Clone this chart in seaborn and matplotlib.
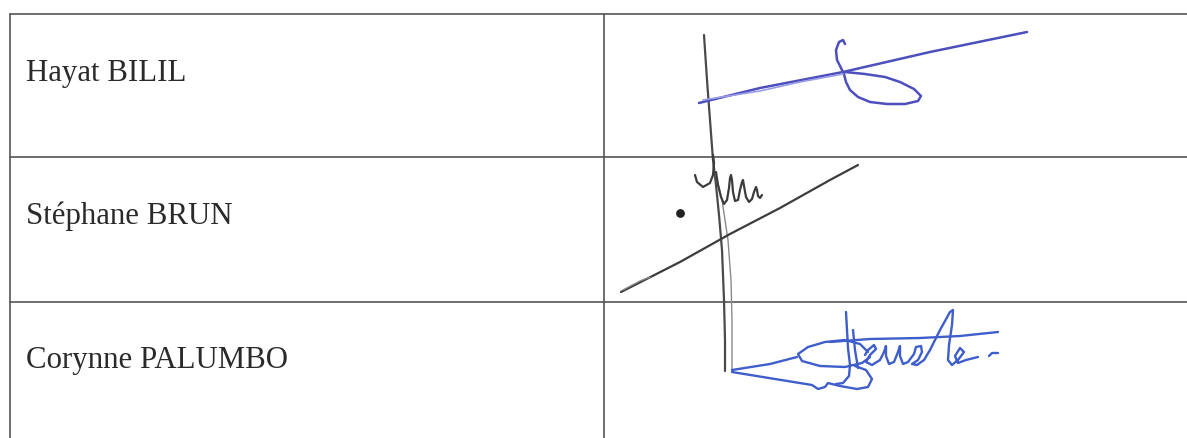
import matplotlib
matplotlib.use("Agg")
import matplotlib.pyplot as plt
import seaborn as sns
import pandas as pd

# table content
names = ["Hayat BILIL", "Stéphane BRUN", "Corynne PALUMBO"]
name_baselines = [81, 224, 368]
row_lines = [14, 157, 302]
col_lines = [10, 604]

# signature strokes (scanned pen traces, pixel positions on the page)
hayat_strokes = {
    "line": [(699, 103), (760, 88), (843, 72), (930, 52), (1027, 32)],
    "loop": [(845, 44), (843, 40), (839, 42), (836, 50), (837, 60), (841, 68),
             (844, 74), (846, 82), (850, 90), (858, 97), (870, 102), (887, 104),
             (905, 104), (918, 101), (921, 96), (914, 89), (900, 82), (885, 77),
             (865, 74), (845, 72)],
}
hayat_faint = [(703, 100), (760, 91), (800, 82), (843, 74)]

pen_line = [(704, 35), (707, 80), (710, 120), (713, 160), (716, 185), (719, 215),
            (722, 250), (724, 300), (725, 340), (725, 371)]
pen_line2 = [(716, 175), (722, 200), (728, 240), (731, 280), (732, 320), (732, 371)]

stephane_strokes = {
    "diag": [(621, 292), (680, 262), (730, 234), (780, 208), (830, 180), (858, 165)],
    "hook": [(695, 175), (697, 182), (703, 187), (710, 183), (713, 175), (714, 163),
             (713, 155)],
    "m": [(716, 172), (718, 185), (721, 197), (724, 204), (727, 200), (729, 188),
          (730, 178), (731, 175), (732, 180), (733, 192), (735, 201), (738, 200),
          (740, 190), (742, 182), (743, 180), (744, 186), (746, 197), (749, 202),
          (752, 199), (754, 192), (756, 187), (757, 190), (758, 196), (760, 198),
          (762, 195)],
}
stephane_faint = [(623, 290), (640, 281), (650, 277)]
stephane_dot = (680, 213)

corynne_strokes = {
    "lead": [(732, 370), (770, 364), (797, 357)],
    "ellipse": [(868, 352), (860, 344), (845, 340), (825, 342), (808, 347), (798, 354),
                (802, 361), (820, 366), (845, 367), (862, 363), (870, 357)],
    "lower": [(732, 372), (775, 379), (812, 385), (818, 389), (825, 387), (828, 383),
              (840, 386), (857, 389), (868, 387), (872, 379), (866, 370), (855, 366)],
    "J": [(846, 312), (847, 330), (848, 348), (850, 365), (849, 376), (843, 383),
          (836, 384)],
    "J2": [(853, 330), (855, 350), (858, 368)],
    "letters": [(865, 355), (868, 350), (874, 345), (876, 349), (870, 355), (866, 362),
                (872, 365), (880, 360), (884, 352), (886, 346), (886, 356), (889, 364),
                (894, 362), (898, 352), (900, 346), (900, 356), (903, 364), (908, 362),
                (914, 354), (916, 347), (921, 346), (922, 352), (918, 360), (912, 364),
                (917, 365), (924, 360), (930, 350), (940, 330), (950, 312), (953, 310),
                (952, 325), (949, 345), (948, 360), (952, 365), (958, 360), (964, 352),
                (960, 348), (955, 356), (958, 363), (966, 360), (978, 357)],
    "top": [(830, 342), (870, 339), (920, 338), (960, 336), (998, 332)],
    "dash": [(989, 356), (992, 353), (998, 353)],
}


def stroke(ax, pts, color, lw):
    df = pd.DataFrame(pts, columns=["x", "y"])
    sns.lineplot(data=df, x="x", y="y", sort=False, estimator=None, ax=ax,
                 color=color, linewidth=lw, solid_capstyle="round",
                 solid_joinstyle="round")


sns.set_theme(style="white")
plt.rcParams['font.family'] = ['Liberation Serif', 'DejaVu Serif']

fig = plt.figure(figsize=(11.87, 4.38), dpi=100)
ax = fig.add_axes([0, 0, 1, 1])
ax.set_xlim(0, 1187)
ax.set_ylim(438, 0)
ax.axis("off")

# table grid
for y in row_lines:
    ax.plot([col_lines[0], 1187], [y, y], color="#555555", lw=1.2)
for x in col_lines:
    ax.plot([x, x], [row_lines[0], 438], color="#555555", lw=1.2)

for name, yb in zip(names, name_baselines):
    ax.text(26, yb, name, fontsize=22.2, color="#2a2a2a", va="baseline", ha="left")

# signatures
stroke(ax, pen_line, "#4a4a4a", 1.6)
stroke(ax, pen_line2, "#8a8a8a", 1.0)
for pts in hayat_strokes.values():
    stroke(ax, pts, "#4d4fbd", 1.8)
stroke(ax, hayat_faint, "#9a9ce6", 1.2)
for pts in stephane_strokes.values():
    stroke(ax, pts, "#3c3c3c", 1.6)
stroke(ax, stephane_faint, "#888888", 1.0)
sns.scatterplot(x=[stephane_dot[0]], y=[stephane_dot[1]], ax=ax, s=40,
                color="#222222", marker="o", linewidth=0)
for pts in corynne_strokes.values():
    stroke(ax, pts, "#3f5ecc", 1.7)

ax.set_xlabel("")
ax.set_ylabel("")
fig.savefig("out.png", dpi=100, facecolor="white")
